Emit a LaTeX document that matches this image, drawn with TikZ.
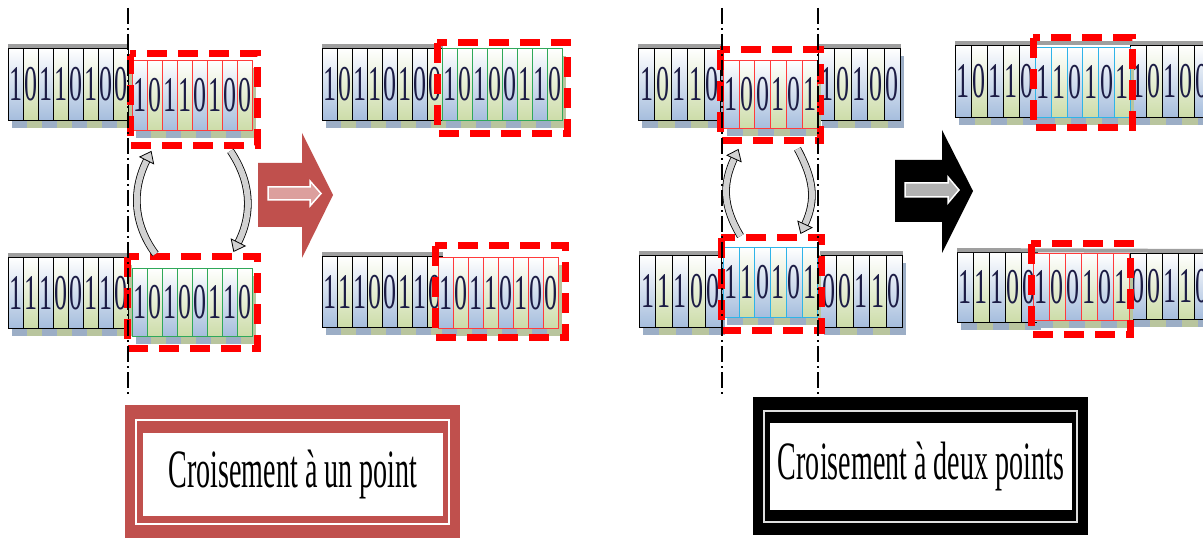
\documentclass[tikz,border=0pt]{standalone}
\usepackage{fontspec}
\newfontfamily\narrowserif[FakeStretch=0.52]{Liberation Serif}
\usetikzlibrary{arrows.meta}

\definecolor{geneblue}{HTML}{A5BDDD}
\definecolor{genegreen}{HTML}{CCDCA8}
\definecolor{bitnavy}{HTML}{1C1C45}
\definecolor{cutred}{HTML}{FF0000}
\definecolor{segred}{HTML}{FF3B3B}
\definecolor{seggreen}{HTML}{2FA85A}
\definecolor{segcyan}{HTML}{2FB4E8}
\definecolor{framered}{HTML}{C0504D}

% one row of genes: name, left, top, cell width, cell height, border colour, bits
\newcommand{\genes}[7]{%
  \foreach \gbit [count=\i from 0] in {#7} {
    \pgfmathtruncatemacro{\k}{mod(\i,2)}
    \ifnum\k=0 \def\tint{geneblue}\else \def\tint{genegreen}\fi
    \fill[\tint!75!gray] (#2+\i*#4+4, #3+8) rectangle ++(#4, #5);
    \node[gene, draw=#6, minimum width=#4pt, minimum height=#5pt,
          top color=white, bottom color=\tint] (#1-\i) at (#2+\i*#4, #3) {\gbit};
  }%
}

\begin{document}
\begin{tikzpicture}[
  x=1pt, y=-1pt,
  gene/.style={anchor=north west, inner sep=0pt, line width=0.9pt, text=bitnavy,
               font=\narrowserif\fontsize{50}{50}\selectfont},
  topbar/.style={draw=gray!75, line width=4pt},
  cutbox/.style={draw=cutred, line width=7pt, dash pattern=on 20pt off 11pt},
  cutline/.style={draw=black, line width=1.4pt, dash pattern=on 16pt off 4pt on 2pt off 4pt},
  swap/.style={draw=black, line width=0.8pt, double=gray!35, double distance=6pt,
               -{Triangle[length=11pt, width=17pt, fill=gray!35]}},
  caption/.style={inner sep=0pt, fill=white, text=black,
                  font=\narrowserif\fontsize{54}{54}\selectfont}
]
\useasboundingbox (0,0) rectangle (1203,540);
\clip (0,0) rectangle (1203,540);

% --- ONE POINT: PARENTS ---
\genes{headA}{8}{48}{15}{72}{black}{1,0,1,1,0,1,0,0}
\genes{headB}{8}{257}{15}{71}{black}{1,1,1,0,0,1,1,0}
\draw[topbar] ([shift={(0,-2)}]headA-0.north west) -- ([shift={(0,-2)}]headA-7.north east);
\draw[topbar] ([shift={(0,-2)}]headB-0.north west) -- ([shift={(0,-2)}]headB-7.north east);
\genes{cutA}{132}{60}{15}{70}{segred}{1,0,1,1,0,1,0,0}
\genes{cutB}{132}{268}{15}{68}{seggreen}{1,0,1,0,0,1,1,0}

% --- ONE POINT: CHILDREN ---
\genes{kidA}{322}{48}{15}{72}{black}{1,0,1,1,0,1,0,0}
\genes{kidB}{322}{256}{15}{71}{black}{1,1,1,0,0,1,1,0}
\draw[topbar] ([shift={(0,-2)}]kidA-0.north west) -- ([shift={(0,-2)}]kidA-7.north east);
\draw[topbar] ([shift={(0,-2)}]kidB-0.north west) -- ([shift={(0,-2)}]kidB-7.north east);
\genes{kidAcut}{442}{48}{15}{72}{seggreen}{1,0,1,0,0,1,1,0}
\genes{kidBcut}{438}{257}{15}{71}{segred}{1,0,1,1,0,1,0,0}

% --- TWO POINTS: PARENTS ---
\genes{leftC}{638}{48}{16.4}{72}{black}{1,0,1,1,0}
\genes{rightC}{818}{48}{16.4}{72}{black}{1,0,1,0,0}
\genes{leftD}{639}{255}{16.4}{72}{black}{1,1,1,0,0}
\genes{rightD}{820}{255}{16.4}{72}{black}{0,0,1,1,0}
\draw[topbar] ([shift={(0,-2)}]leftC-0.north west) -- ([shift={(0,-2)}]leftC-4.north east);
\draw[topbar] ([shift={(0,-2)}]rightC-0.north west) -- ([shift={(0,-2)}]rightC-4.north east);
\draw[topbar] ([shift={(0,-2)}]leftD-0.north west) -- ([shift={(0,-2)}]leftD-4.north east);
\draw[topbar] ([shift={(0,-2)}]rightD-0.north west) -- ([shift={(0,-2)}]rightD-4.north east);
\genes{cutC}{723}{60}{15.7}{68}{segred}{1,0,0,1,0,1}
\genes{cutD}{723}{247}{15.7}{70}{segcyan}{1,1,0,1,0,1}

% --- TWO POINTS: CHILDREN ---
\genes{kidCl}{955}{45}{16}{72}{black}{1,0,1,1,0}
\genes{kidCr}{1130}{45}{16}{72}{black}{1,0,1,0,0}
\genes{kidDl}{957}{252}{16}{70}{black}{1,1,1,0,0}
\genes{kidDr}{1130}{253}{16}{66}{black}{0,0,1,1,0}
\draw[topbar] ([shift={(0,-2)}]kidCl-0.north west) -- ([shift={(0,-2)}]kidCr-4.north east);
\draw[topbar] ([shift={(0,-2)}]kidDl-0.north west) -- ([shift={(0,-2)}]kidDr-4.north east);
\genes{kidCcut}{1035}{47}{15.8}{70}{segcyan}{1,1,0,1,0,1}
\genes{kidDcut}{1033}{253}{16}{67}{segred}{1,0,0,1,0,1}

% --- CUT SEGMENTS (red dashed) ---
\draw[cutbox] ([shift={(-2,-6)}]cutA-0.north west) rectangle ([shift={(5,15)}]cutA-7.south east);
\draw[cutbox] ([shift={(-5,-11)}]cutB-0.north west) rectangle ([shift={(5,12)}]cutB-7.south east);
\draw[cutbox] ([shift={(-5,-5)}]kidAcut-0.north west) rectangle ([shift={(5,13)}]kidAcut-7.south east);
\draw[cutbox] ([shift={(-3,-11)}]kidBcut-0.north west) rectangle ([shift={(7,9)}]kidBcut-7.south east);
\draw[cutbox] ([shift={(-3,-10)}]cutC-0.north west) rectangle ([shift={(2,12)}]cutC-5.south east);
\draw[cutbox] ([shift={(-2,-9)}]cutD-0.north west) rectangle ([shift={(3,13)}]cutD-5.south east);
\draw[cutbox] ([shift={(-2,-9)}]kidCcut-0.north west) rectangle ([shift={(2,10)}]kidCcut-5.south east);
\draw[cutbox] ([shift={(-2,-9)}]kidDcut-0.north west) rectangle ([shift={(1,14)}]kidDcut-5.south east);

% --- CROSSING POINTS ---
\coordinate (cutOneTop) at (128,8);
\coordinate (cutOneBot) at (128,395);
\coordinate (cutTwoTop) at (722,8);
\coordinate (cutTwoBot) at (722,395);
\coordinate (cutThreeTop) at (818,8);
\coordinate (cutThreeBot) at (818,395);
\draw[cutline] (cutOneTop) -- (cutOneBot);
\draw[cutline] (cutTwoTop) -- (cutTwoBot);
\draw[cutline] (cutThreeTop) -- (cutThreeBot);

% --- SWAPS ---
\draw[swap] ([shift={(15.5,-14)}]cutB-0.north) .. controls +(-22,-30) and +(-20,40) .. ([shift={(-3.5,20)}]cutA-1.south);
\draw[swap] ([shift={(0.5,20)}]cutA-6.south) .. controls +(20,30) and +(20,-40) .. ([shift={(3.5,-16)}]cutB-6.north);
\draw[swap] ([shift={(-6.5,-11)}]cutD-1.north) .. controls +(-18,-30) and +(-16,35) .. ([shift={(-8.5,20)}]cutC-1.south);
\draw[swap] ([shift={(3.4,20)}]cutC-4.south) .. controls +(16,30) and +(16,-35) .. ([shift={(6.4,-13)}]cutD-4.north);

% --- BLOCK ARROWS ---
\fill[framered] (258,163) -- (302,163) -- (302,133) -- (333,195) -- (302,258) -- (302,227) -- (258,227) -- cycle;
\draw[white, line width=1.5pt, fill=framered!55!white] (268,187) -- (310,187) -- (310,181) -- (321,193.5) -- (310,206) -- (310,200) -- (268,200) -- cycle;
\fill[black] (895,160) -- (942,160) -- (942,130) -- (973,191) -- (942,253) -- (942,222) -- (895,222) -- cycle;
\draw[white, line width=1.5pt, fill=gray!60] (905,183) -- (948,183) -- (948,177) -- (959,190) -- (948,203) -- (948,197) -- (905,197) -- cycle;

% --- CAPTIONS ---
\node[fill=framered, minimum width=335pt, minimum height=133pt, inner sep=0pt] (oneframe) at (292.5,471.5) {};
\draw[white, line width=2.5pt] ([shift={(11,15)}]oneframe.north west) rectangle ([shift={(-11,-14)}]oneframe.south east);
\node[caption, draw=framered, line width=2pt, minimum width=302pt, minimum height=85pt] (onepoint) at (293,474.5) {Croisement à un point};

\node[fill=black, minimum width=335pt, minimum height=138pt, inner sep=0pt] (twoframe) at (920.5,466) {};
\draw[gray!25, line width=2.5pt] ([shift={(11,14)}]twoframe.north west) rectangle ([shift={(-11,-13)}]twoframe.south east);
\node[caption, draw=black, line width=2pt, minimum width=304pt, minimum height=89pt] (twopoints) at (921,466.5) {Croisement à deux points};

\end{tikzpicture}
\end{document}
